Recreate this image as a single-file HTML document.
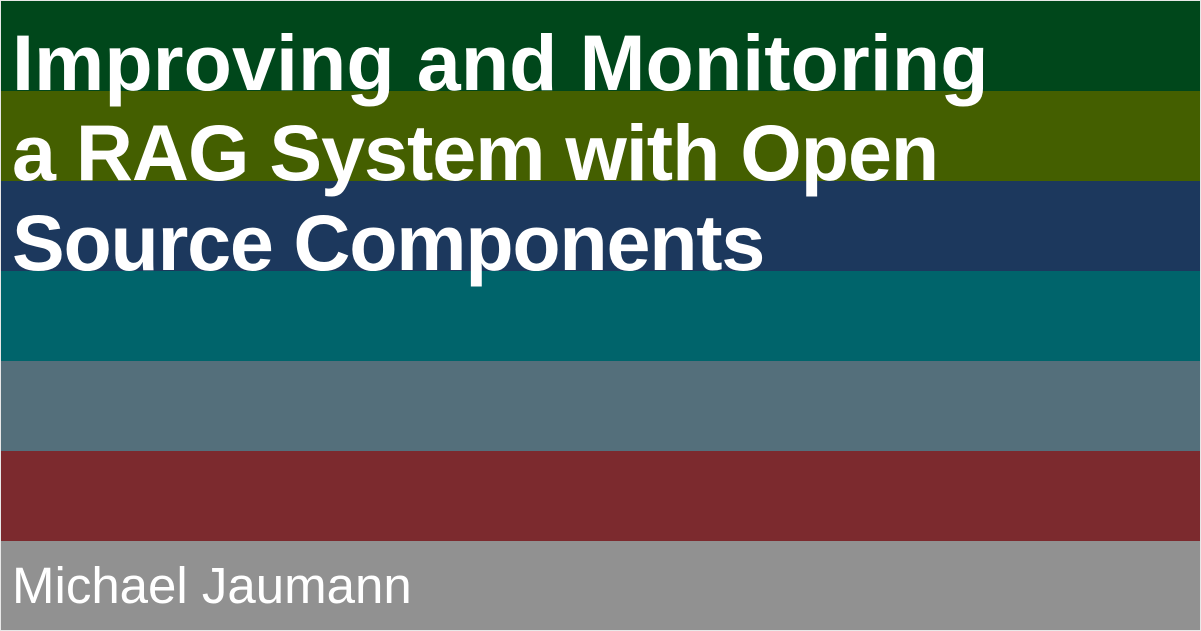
<!DOCTYPE html>
<html><head><meta charset="utf-8"><style>
html,body{margin:0;padding:0;background:#eeeeee;}
.wrap{position:relative;width:1201px;height:631px;overflow:hidden;background:#e8e8e8;}
.b{position:absolute;left:1px;width:1199px;height:90px;}
.t{position:absolute;left:12px;color:#fff;font-family:"Liberation Sans",sans-serif;font-weight:bold;font-size:79px;white-space:nowrap;line-height:1;}
</style></head><body><div class="wrap">
<div class="b" style="top:1px;background:#00471b"></div>
<div class="b" style="top:91px;background:#445f00"></div>
<div class="b" style="top:181px;background:#1c385d"></div>
<div class="b" style="top:271px;background:#00646b"></div>
<div class="b" style="top:361px;background:#546f7b"></div>
<div class="b" style="top:451px;background:#7c2a2e"></div>
<div class="b" style="top:541px;background:#919191;height:89px"></div>
<div class="t" style="top:23px;letter-spacing:0.1px">Improving and Monitoring</div>
<div class="t" style="top:113px;letter-spacing:-1px">a RAG System with Open</div>
<div class="t" style="top:203px;letter-spacing:-1.2px">Source Components</div>
<div class="t" style="top:560px;font-weight:normal;font-size:51px;letter-spacing:0">Michael Jaumann</div>
</div></body></html>
